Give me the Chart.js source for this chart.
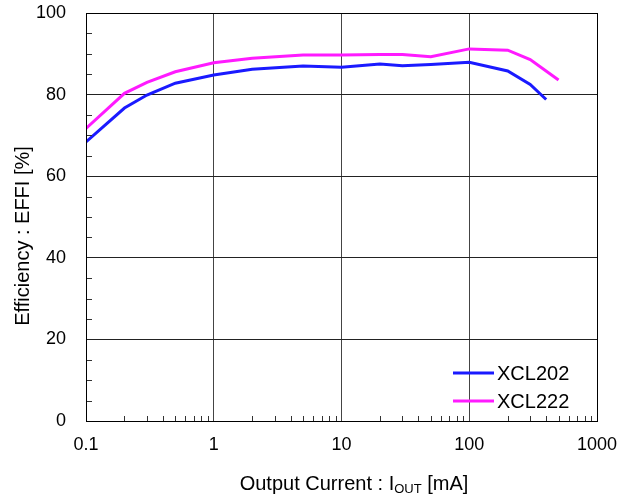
<!DOCTYPE html>
<html>
<head>
<meta charset="utf-8">
<script src="https://cdn.jsdelivr.net/npm/chart.js@4"></script>
<style>
  html, body { margin: 0; padding: 0; background: #fff; }
  #wrap { width: 624px; height: 497px; }
</style>
</head>
<body>
<div id="wrap"><canvas id="chart" width="624" height="497"></canvas></div>
<script>
// output current [mA]
const currentXCL202 = [0.1, 0.2, 0.3, 0.5, 1, 2, 5, 10, 20, 30, 50, 100, 200, 300, 400];
const effXCL202 = [68.4, 76.7, 79.9, 82.8, 84.8, 86.2, 87.0, 86.7, 87.5, 87.1, 87.4, 87.9, 85.8, 82.5, 78.8];
const currentXCL222 = [0.1, 0.2, 0.3, 0.5, 1, 2, 5, 10, 20, 30, 50, 100, 200, 300, 500];
const effXCL222 = [71.7, 80.3, 83.0, 85.6, 87.8, 88.9, 89.7, 89.7, 89.8, 89.8, 89.3, 91.2, 90.9, 88.6, 83.6];
const xTicks = [0.1, 1, 10, 100, 1000];
const xTickLabels = ["0.1", "1", "10", "100", "1000"];
const yTicks = [0, 20, 40, 60, 80, 100];

const FONT = "'Liberation Sans', Arial, sans-serif";

const toPoints = (xs, ys) => xs.map((x, i) => ({ x: x, y: ys[i] }));

// frame, minor ticks, titles and legend
const decorPlugin = {
  id: "decor",
  afterDraw(chart) {
    const { ctx, chartArea: a, scales } = chart;
    const xs = scales.x, ys = scales.y;
    ctx.save();

    // minor ticks
    ctx.strokeStyle = "#333";
    ctx.lineWidth = 1;
    ctx.beginPath();
    for (let d = 0.1; d < 1000; d *= 10) {
      for (let m = 2; m <= 9; m++) {
        const px = Math.round(xs.getPixelForValue(d * m)) + 0.5;
        ctx.moveTo(px, a.bottom);
        ctx.lineTo(px, a.bottom - 5);
      }
    }
    for (let v = 5; v < 100; v += 5) {
      if (v % 20 === 0) continue;
      const py = Math.round(ys.getPixelForValue(v)) + 0.5;
      ctx.moveTo(a.left, py);
      ctx.lineTo(a.left + 6, py);
    }
    ctx.stroke();

    // frame
    ctx.strokeStyle = "#000";
    ctx.lineWidth = 1;
    ctx.strokeRect(Math.round(a.left) + 0.5, Math.round(a.top) + 0.5,
      Math.round(a.right - a.left), Math.round(a.bottom - a.top));

    // legend
    ctx.font = "20px " + FONT;
    ctx.textBaseline = "middle";
    ctx.textAlign = "left";
    chart.data.datasets.forEach((ds, i) => {
      const y = 373 + i * 28;
      ctx.strokeStyle = ds.borderColor;
      ctx.lineWidth = 3;
      ctx.beginPath();
      ctx.moveTo(453, y);
      ctx.lineTo(494, y);
      ctx.stroke();
      ctx.fillStyle = "#000";
      ctx.fillText(ds.label, 497, y + 1);
    });

    // x title with subscript
    ctx.fillStyle = "#000";
    ctx.font = "20px " + FONT;
    const p1 = "Output Current : I", sub = "OUT", p2 = " [mA]";
    const w1 = ctx.measureText(p1).width, w3 = ctx.measureText(p2).width;
    ctx.font = "13px " + FONT;
    const w2 = ctx.measureText(sub).width;
    let x = 354 - (w1 + w2 + w3) / 2;
    ctx.textBaseline = "alphabetic";
    ctx.font = "20px " + FONT;
    ctx.fillText(p1, x, 490);
    x += w1;
    ctx.font = "13px " + FONT;
    ctx.fillText(sub, x, 493);
    x += w2;
    ctx.font = "20px " + FONT;
    ctx.fillText(p2, x, 490);

    // y title
    ctx.translate(23, 236);
    ctx.rotate(-Math.PI / 2);
    ctx.textAlign = "center";
    ctx.textBaseline = "middle";
    ctx.fillText("Efficiency : EFFI [%]", 0, 0);
    ctx.restore();
  }
};

new Chart(document.getElementById("chart"), {
  type: "line",
  data: {
    datasets: [
      {
        label: "XCL202",
        data: toPoints(currentXCL202, effXCL202),
        borderColor: "#1a1aff",
        borderWidth: 3,
        pointRadius: 0,
        tension: 0,
      },
      {
        label: "XCL222",
        data: toPoints(currentXCL222, effXCL222),
        borderColor: "#ff1aff",
        borderWidth: 3,
        pointRadius: 0,
        tension: 0,
      },
    ],
  },
  options: {
    responsive: false,
    animation: false,
    layout: { padding: { top: 13, right: 27, left: 0, bottom: 0 } },
    plugins: {
      legend: { display: false },
      tooltip: { enabled: false },
    },
    scales: {
      x: {
        type: "logarithmic",
        min: 0.1,
        max: 1000,
        afterBuildTicks(scale) {
          scale.ticks = xTicks.map(v => ({ value: v }));
        },
        afterFit(scale) {
          scale.height = 76;
          scale.paddingLeft = 0;
          scale.paddingRight = 0;
        },
        ticks: {
          color: "#000",
          font: { family: FONT, size: 18 },
          padding: 13,
          maxRotation: 0,
          autoSkip: false,
          callback: (v) => xTickLabels[xTicks.indexOf(v)] ?? "",
        },
        grid: { color: "#444", lineWidth: 1, drawTicks: false },
        border: { color: "#000" },
      },
      y: {
        min: 0,
        max: 100,
        afterBuildTicks(scale) {
          scale.ticks = yTicks.map(v => ({ value: v }));
        },
        afterFit(scale) {
          scale.width = 86;
          scale.paddingTop = 0;
          scale.paddingBottom = 0;
        },
        ticks: {
          color: "#000",
          font: { family: FONT, size: 18 },
          padding: 20,
        },
        grid: { color: "#222", lineWidth: 1, drawTicks: false },
        border: { color: "#000" },
      },
    },
  },
  plugins: [decorPlugin],
});
</script>
</body>
</html>
